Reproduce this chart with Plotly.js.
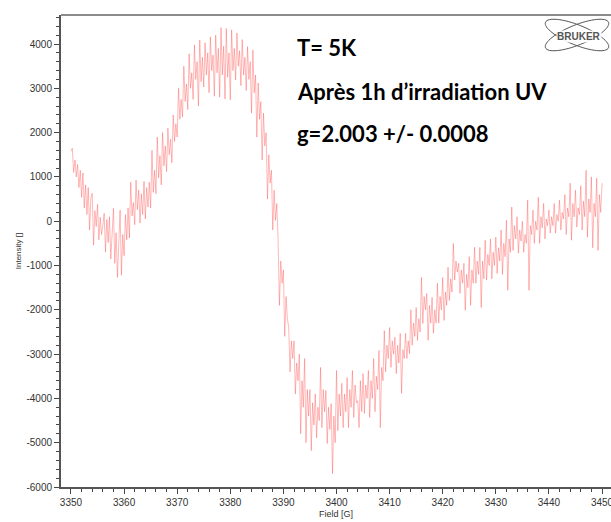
<!DOCTYPE html>
<html>
<head>
<meta charset="utf-8">
<script src="https://cdn.plot.ly/plotly-3.0.1.min.js"></script>
<style>html,body{margin:0;padding:0;background:#fff;}#chart{width:611px;height:522px;}</style>
</head>
<body>
<div id="chart"></div>
<script>
// EPR spectrum: field sampled from 3350 G in 0.25 G steps
const fieldStart = 3350;
const fieldStep = 0.25;
const intensity = [
  1580, 1650, 1100, 1380,   1000, 1280, 760, 1150,   540, 1090, 300, 820,
  150, 760, -200, 520,      630, -540, 240, -120,    380, -420, 90, -300,
  -100, 180, -700, 40,      -480, 100, -850, -250,   290, -950, -260, -1270,
  -600, 250, -1220, -300,   -780, 150, -420, 300,    -380, 880, 120, 420,
  -80, 930, 260, 700,       -40, 620, 150, 900,      50, 760, 320, 880,
  300, 1600, 650, 1150,     620, 1900, 980, 1480,    820, 2000, 1250, 1700,
  1120, 2100, 1500, 1850,   1320, 2400, 1800, 2200,  1900, 3000, 2300, 2750,
  2350, 3500, 2700, 3100,   2520, 3780, 3000, 3350,  2750, 3980, 3200, 3600,
  2600, 4090, 3150, 3700,   3030, 4030, 3300, 3800,  2900, 4160, 3400, 3750,
  2820, 4200, 3350, 3900,   2800, 4370, 3300, 3950,  2760, 4350, 3250, 3800,
  2740, 4320, 3400, 3900,   3190, 4250, 3500, 3850,  3060, 4100, 3300, 3700,
  2950, 3940, 3200, 3600,   2440, 3870, 2900, 3300,  1900, 3120, 2300, 2700,
  1380, 2440, 1700, 2000,   500, 1500, 860, 1150,    -200, 700, 20, 400,
  -400, -1900, -900, -1400, -1100, -2600, -1700, -2200, -2400, -3400, -2700, -3100,
  -2700, -3900, -3200, -3600, -3000, -4800, -3600, -4200, -3100, -5000, -3800, -4400,
  -3800, -5180, -4100, -4600, -3900, -4890, -4200, -4500, -3300, -4660, -3800, -4300,
  -3820, -5020, -4200, -4700, -4120, -5700, -4400, -5000, -3370, -4730, -3900, -4400,
  -3660, -4660, -3900, -4300, -3530, -4660, -3800, -4200, -3370, -4430, -3700, -4100,
  -4050, -4660, -3600, -4300, -3440, -4340, -3700, -4000, -3370, -4430, -3600, -4000,
  -3100, -4300, -3500, -3800, -2920, -4660, -3300, -3600, -2470, -3400, -2800, -3100,
  -2400, -3300, -2700, -3000, -2620, -3440, -2800, -3200, -2530, -3890, -2900, -3100,
  -2530, -3100, -2700, -2990, -2000, -2800, -2300, -2600, -1950, -2690, -2200, -2500,
  -1270, -2310, -1700, -2000, -1630, -2690, -1900, -2300, -1720, -2530, -2000, -2300,
  -1400, -2300, -1700, -2000, -1270, -2240, -1600, -1900, -1040, -1790, -1300, -1600,
  -500, -1330, -900, -1150,  -950, -1630, -1100, -1400,  -950, -2010, -1200, -1500,
  -800, -1900, -1100, -1400, -590, -1400, -900, -1200,   -590, -1950, -900, -1300,
  -430, -1330, -750, -1000,  -400, -1300, -700, -1000,   -360, -1180, -600, -900,
  -200, -1200, -500, -800,   20, -1560, -400, -700,      320, -660, -100, -400,
  100, -720, -200, -450,     0, -700, -300, -500,        475, -1560, -100, -300,
  250, -500, 0, -200,        540, -500, 100, -150,       400, -400, 50, -100,
  250, -270, 100, -100,      400, -270, 150, 0,          475, -200, 200, 50,
  600, -300, 300, 100,       860, -430, 400, 100,        700, -130, 300, 150,
  800, -200, 450, 100,       1150, -360, 500, 200,       1000, -600, 400, 100,
  970, -660, 600, 200,       860
];
const field = intensity.map((_, i) => fieldStart + i * fieldStep);

const xTickVals = [3350, 3360, 3370, 3380, 3390, 3400, 3410, 3420, 3430, 3440, 3450];
const xTickLabels = ['3350', '3360', '3370', '3380', '3390', '3400', '3410', '3420', '3430', '3440', '3450'];
const yTickVals = [4000, 3000, 2000, 1000, 0, -1000, -2000, -3000, -4000, -5000, -6000];
const yTickLabels = ['4000', '3000', '2000', '1000', '0', '-1000', '-2000', '-3000', '-4000', '-5000', '-6000'];
const noteLines = ['T= 5K', 'Après 1h d’irradiation UV', 'g=2.003 +/- 0.0008'];

// layout geometry (pixels)
const W = 611, H = 522, ML = 61, MR = 0, MT = 15, MB = 35;
const PW = W - ML - MR, PH = H - MT - MB;
const px = x => (x - ML) / PW;
const py = y => (H - MB - y) / PH;

function ellipsePath(cx, cy, a, b, deg) {
  const t = deg * Math.PI / 180, c = Math.cos(t), s = Math.sin(t), k = 0.5523;
  const P = (u, v) => { const X = cx + u * c - v * s, Y = cy + u * s + v * c; return px(X).toFixed(5) + ',' + py(Y).toFixed(5); };
  return 'M' + P(a, 0) +
    ' C' + P(a, k * b) + ' ' + P(k * a, b) + ' ' + P(0, b) +
    ' C' + P(-k * a, b) + ' ' + P(-a, k * b) + ' ' + P(-a, 0) +
    ' C' + P(-a, -k * b) + ' ' + P(-k * a, -b) + ' ' + P(0, -b) +
    ' C' + P(k * a, -b) + ' ' + P(a, -k * b) + ' ' + P(a, 0) + ' Z';
}

const trace = {
  x: field, y: intensity, type: 'scatter', mode: 'lines',
  line: {color: 'rgba(255,80,80,0.45)', width: 0.9}, hoverinfo: 'skip'
};

const tickFont = {family: 'Liberation Sans, Arial, sans-serif', size: 10, color: '#333'};
const noteFont = {family: 'Lato, Liberation Sans, sans-serif', size: 22, color: '#000', weight: 'bold'};

const layout = {
  width: W, height: H,
  margin: {l: ML, r: MR, t: MT, b: MB, pad: 0},
  paper_bgcolor: '#fff', plot_bgcolor: '#fff',
  showlegend: false,
  xaxis: {
    range: [3348.12, 3451.69], tickmode: 'array', tickvals: xTickVals, ticktext: xTickLabels,
    ticks: 'outside', ticklen: 5, tickwidth: 1, tickcolor: '#444', ticklabeloverflow: 'allow',
    minor: {tickmode: 'linear', tick0: 3350, dtick: 2, ticks: 'outside', ticklen: 3, tickwidth: 1, tickcolor: '#444'},
    showline: true, linewidth: 2, linecolor: '#555', showgrid: false, zeroline: false,
    tickfont: tickFont,
    title: {text: 'Field [G]', font: {family: 'Liberation Sans, Arial, sans-serif', size: 9, color: '#333'}, standoff: 4}
  },
  yaxis: {
    range: [-6000, 4655], tickmode: 'array', tickvals: yTickVals, ticktext: yTickLabels,
    ticks: 'outside', ticklen: 5, tickwidth: 1, tickcolor: '#444',
    minor: {tickmode: 'linear', tick0: 0, dtick: 200, ticks: 'outside', ticklen: 3, tickwidth: 1, tickcolor: '#444'},
    showline: true, linewidth: 2, linecolor: '#555', showgrid: false, zeroline: false,
    tickfont: tickFont,
    title: {text: 'Intensity []', font: {family: 'Liberation Sans, Arial, sans-serif', size: 8, color: '#333'}, standoff: 4}
  },
  shapes: [
    {type: 'line', xref: 'paper', yref: 'paper', x0: 0, x1: 1, y0: 1, y1: 1, line: {color: '#666', width: 1.5}},
    {type: 'path', xref: 'paper', yref: 'paper', path: ellipsePath(577, 35, 34, 10, 22), line: {color: '#555', width: 1}},
    {type: 'path', xref: 'paper', yref: 'paper', path: ellipsePath(577, 35, 34, 10, -22), line: {color: '#555', width: 1}}
  ],
  annotations: [
    {xref: 'paper', yref: 'paper', x: px(295), y: py(47), xanchor: 'left', yanchor: 'middle', showarrow: false, text: noteLines[0], font: noteFont},
    {xref: 'paper', yref: 'paper', x: px(295), y: py(91), xanchor: 'left', yanchor: 'middle', showarrow: false, text: noteLines[1], font: noteFont},
    {xref: 'paper', yref: 'paper', x: px(295), y: py(133), xanchor: 'left', yanchor: 'middle', showarrow: false, text: noteLines[2], font: noteFont},
    {xref: 'paper', yref: 'paper', x: px(579), y: py(37), xanchor: 'center', yanchor: 'middle', showarrow: false, text: '<b>BRUKER</b>', bgcolor: 'rgba(255,255,255,0.9)', borderpad: 0, font: {family: 'Liberation Sans, Arial, sans-serif', size: 10, color: '#555'}}
  ]
};

Plotly.newPlot('chart', [trace], layout, {displayModeBar: false, staticPlot: true});
</script>
</body>
</html>
